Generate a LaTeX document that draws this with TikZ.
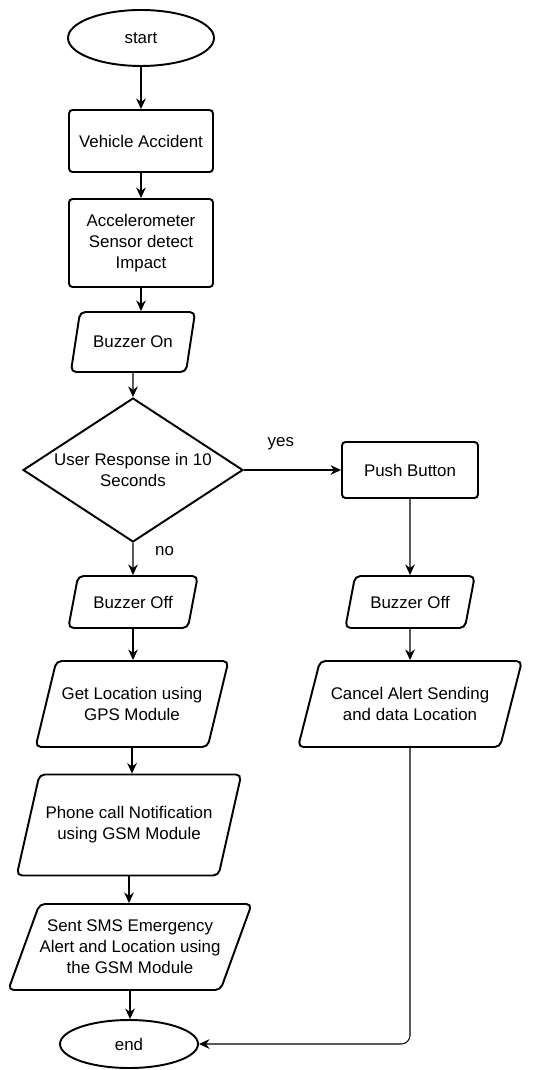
\documentclass[tikz,border=0pt]{standalone}
\usepackage{fontspec}
\setmainfont{Liberation Sans}
\usetikzlibrary{arrows.meta, positioning, shapes.geometric}
\tikzset{
  term/.style   = {draw, ellipse, line width=1.1pt, minimum width=2.92cm,
                   minimum height=1.12cm, inner sep=0pt},
  proc/.style   = {draw, rectangle, rounded corners=2pt, line width=1.1pt,
                   minimum width=2.88cm, align=center, inner sep=0pt},
  io/.style     = {draw, trapezium, trapezium left angle=60, trapezium right angle=120,
                   trapezium stretches=true, rounded corners=3pt, line width=1.1pt,
                   align=center, inner sep=0pt},
  decide/.style = {draw, diamond, line width=1.1pt, aspect=1.53, align=center,
                   inner sep=0pt, minimum width=4.4cm, minimum height=2.88cm},
  flow/.style   = {-{Stealth[length=6pt, width=5.5pt]}, line width=0.6pt},
}

\begin{document}
\begin{tikzpicture}[
    x=0.02cm, y=-0.02cm,
    every node/.style={font=\fontsize{9.6}{12}\selectfont}
]
\useasboundingbox (0,0) rectangle (556,1070);

% main column
\node[term] (start) at (141,38) {start};
\node[proc, minimum height=1.24cm] (crash) at (141,141) {Vehicle Accident};
\node[proc, minimum height=1.76cm] (sensor) at (141,243) {Accelerometer\\Sensor detect\\Impact};
\node[io, minimum width=2.5cm, minimum height=1.2cm] (buzzon) at (133,342) {Buzzer On};
\node[decide] (resp) at (133,470) {User Response in 10\\Seconds};
\node[io, minimum width=2.6cm, minimum height=1.04cm] (boffl) at (133,602) {Buzzer Off};
\node[io, minimum width=3.86cm, minimum height=1.72cm] (gps) at (132,704) {Get Location using\\GPS Module};
\node[io, minimum width=4.5cm, minimum height=2.02cm] (call) at (129,825) {Phone call Notification\\using GSM Module};
\node[io, minimum width=4.66cm, minimum height=1.72cm] (sms) at (130,947) {Sent SMS Emergency\\Alert and Location using\\the GSM Module};
\node[term, minimum width=2.76cm, minimum height=0.96cm] (end) at (129,1044) {end};

% cancel branch
\node[proc, minimum width=2.72cm, minimum height=1.12cm] (push) at (410,470) {Push Button};
\node[io, minimum width=2.6cm, minimum height=1.04cm] (boffr) at (410,602) {Buzzer Off};
\node[io, minimum width=4.48cm, minimum height=1.72cm] (cancel) at (410,704) {Cancel Alert Sending\\and data Location};

\draw[flow] (start) -- (crash);
\draw[flow] (crash) -- (sensor);
\draw[flow] (sensor.south) -- (sensor.south |- buzzon.north);
\draw[flow] (buzzon) -- (resp);
\draw[flow] (resp) -- node[above=8pt, pos=0.38] (yes) {yes} (push);
\draw[flow] (resp) -- node[right=9pt, pos=0.25] (no) {no} (boffl);
\draw[flow] (boffl.south) -- (boffl.south |- gps.north);
\draw[flow] (gps.south) -- (gps.south |- call.north);
\draw[flow] (call.south) -- (call.south |- sms.north);
\draw[flow] (sms.south) -- (sms.south |- end.north);
\draw[flow] (push) -- (boffr);
\draw[flow] (boffr) -- (cancel);
\draw[flow, rounded corners=5pt] (cancel.south) |- (end.east);

\end{tikzpicture}
\end{document}
